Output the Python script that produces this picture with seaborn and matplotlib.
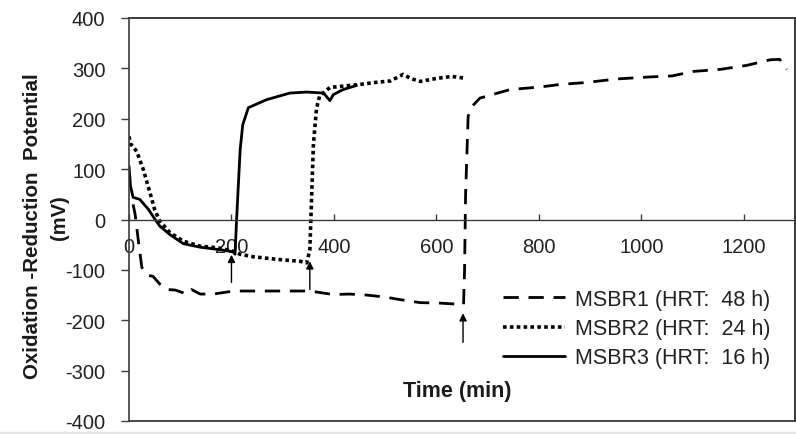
import numpy as np
import pandas as pd
import matplotlib
matplotlib.use("Agg")
import matplotlib.pyplot as plt
import seaborn as sns
from matplotlib.lines import Line2D

# ---------------- data ----------------
labels = ["MSBR1 (HRT:  48 h)", "MSBR2 (HRT:  24 h)", "MSBR3 (HRT:  16 h)"]

t1 = [8, 12, 18, 25, 35, 47, 60, 74, 90, 113, 122, 139, 165, 204, 250, 301, 353,
      399, 430, 464, 500, 529, 568, 607, 640, 653, 655, 657, 662, 670, 685, 744,
      802, 841, 893, 952, 1017, 1060, 1102, 1154, 1206, 1251, 1270, 1284]
v1 = [30, 10, -40, -95, -110, -113, -128, -139, -140, -148, -139, -148, -148,
      -142, -142, -142, -142, -149, -148, -150, -154, -159, -165, -166, -168,
      -169, -100, 50, 205, 225, 241, 258, 263, 268, 272, 279, 283, 285, 294, 298,
      306, 317, 318, 298]

t2 = [0, 3, 8, 15, 28, 41, 50, 60, 80, 106, 139, 171, 200, 217, 243, 288, 334,
      347, 353, 355, 360, 366, 372, 392, 420, 450, 480, 510, 535, 550, 568, 600,
      630, 652]
v2 = [165, 150, 145, 135, 99, 53, 20, -3, -26, -43, -53, -56, -62, -69, -74,
      -79, -83, -86, -60, 0, 150, 220, 245, 262, 265, 268, 272, 275, 288, 280,
      274, 280, 284, 281]

t3 = [0, 3, 8, 21, 38, 51, 60, 80, 106, 139, 178, 203, 207, 210, 217, 222, 233,
      269, 314, 347, 380, 392, 399, 418, 444]
v3 = [106, 66, 44, 40, 20, 0, -13, -30, -48, -55, -60, -64, -69, 0, 139, 188,
      222, 238, 251, 253, 251, 236, 248, 258, 266]

x_ticks = [0, 200, 400, 600, 800, 1000, 1200]
y_ticks = [-400, -300, -200, -100, 0, 100, 200, 300, 400]

arrow_x = [200, 353, 652]
arrow_from = [-125, -139, -244]
arrow_to = [-70, -83, -186]

df = pd.concat([
    pd.DataFrame({"t": t1, "v": v1, "series": labels[0]}),
    pd.DataFrame({"t": t2, "v": v2, "series": labels[1]}),
    pd.DataFrame({"t": t3, "v": v3, "series": labels[2]}),
], ignore_index=True)

# ---------------- figure ----------------
sns.set_style("white")
plt.rcParams["font.family"] = ["Liberation Sans", "DejaVu Sans"]
plt.rcParams["axes.unicode_minus"] = False

W, H = 796, 435
L, R, T, B = 129, 795, 19, 422
fig = plt.figure(figsize=(W / 100, H / 100), dpi=100)
ax = fig.add_axes([L / W, 1 - B / H, (R - L) / W, (B - T) / H])

styles = {labels[0]: (5.5, 3.5), labels[1]: (1.0, 0.9), labels[2]: ""}
sns.lineplot(data=df, x="t", y="v", style="series", style_order=labels,
             dashes=styles, color="black", linewidth=2.0, estimator=None,
             sort=False, ax=ax, legend=True)
for ln in ax.lines:
    ln.set_dash_capstyle("butt")
    if len(ln.get_xdata()) == len(t2):
        ln.set_linewidth(2.6)

ax.set_xlim(0, 1300)
ax.set_ylim(-400, 400)
ax.set_xticks(x_ticks)
ax.set_yticks(y_ticks)
ax.set_xlabel("")
ax.set_ylabel("")

axis_col = "#3c3c3c"
for s in ["top", "right", "left"]:
    ax.spines[s].set_visible(True)
    ax.spines[s].set_color(axis_col)
    ax.spines[s].set_linewidth(1.2)
ax.spines["bottom"].set_position(("data", 0))
ax.spines["bottom"].set_color(axis_col)
ax.spines["bottom"].set_linewidth(1.0)
ax.set_axisbelow(True)

# outer frame of the plot area
ax.axhline(400, color=axis_col, linewidth=1.3, clip_on=False, zorder=6)
ax.axhline(-400, color=axis_col, linewidth=1.3, clip_on=False, zorder=6)
ax.axvline(1300, color=axis_col, linewidth=1.3, clip_on=False, zorder=6)

ax.tick_params(axis="y", direction="out", length=6, width=1, color=axis_col,
               pad=11, labelsize=14.5, labelcolor="#222222", left=True)
ax.tick_params(axis="x", direction="in", length=4, width=1, color=axis_col,
               pad=12.5, labelsize=14.5, labelcolor="#222222", bottom=True)

for xa, y0, y1 in zip(arrow_x, arrow_from, arrow_to):
    ax.annotate("", xy=(xa, y1), xytext=(xa, y0),
                arrowprops=dict(arrowstyle="-|>", color="black", lw=1.0,
                                mutation_scale=11, shrinkA=0, shrinkB=0))

handles, labs = ax.get_legend_handles_labels()
leg = ax.legend(handles, labs, loc="upper left", frameon=False, fontsize=15.5,
                bbox_to_anchor=(503 / W, 1 - 290 / H), bbox_transform=fig.transFigure,
                borderaxespad=0, borderpad=0, handlelength=2.9, handletextpad=0.45,
                labelspacing=0.38)
for h, lab in zip(leg.get_lines(), labs):
    h.set_color("black")
    h.set_linewidth(2.6 if lab == labels[1] else 2.0)
for txt in leg.get_texts():
    txt.set_color("#222222")

fig.text(457 / W, 1 - 392 / H, "Time (min)", ha="center", va="center",
         fontsize=15.5, fontweight="bold", color="#1a1a1a")
fig.text(33 / W, 1 - 226 / H, "Oxidation -Reduction  Potential", ha="center",
         va="center", rotation=90, fontsize=14.8, fontweight="bold", color="#1a1a1a")
fig.text(59 / W, 1 - 218 / H, "(mV)", ha="center", va="center", rotation=90,
         fontsize=14.5, fontweight="bold", color="#1a1a1a")

fig.add_artist(Line2D([0, 1], [1.5 / H, 1.5 / H], transform=fig.transFigure,
                      color="#e4e4e4", linewidth=2.5))

fig.savefig("out.png", dpi=100)
